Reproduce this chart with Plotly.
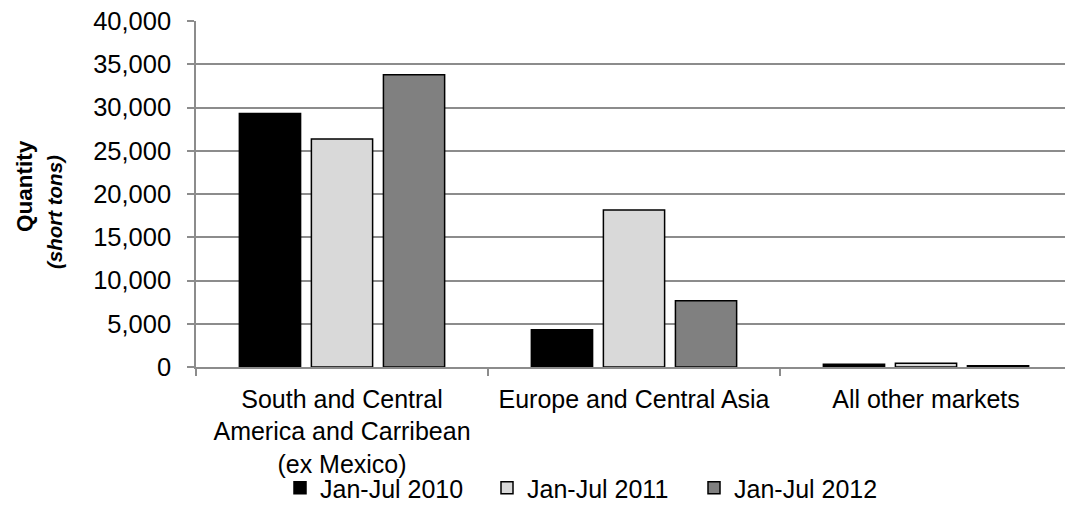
import plotly.graph_objects as go

categories = ["South and Central<br>America and Carribean<br>(ex Mexico)",
              "Europe and Central Asia",
              "All other markets"]
series_names = ["Jan-Jul 2010", "Jan-Jul 2011", "Jan-Jul 2012"]
v2010 = [29300, 4300, 330]
v2011 = [26350, 18150, 430]
v2012 = [33800, 7650, 150]
colors = ["#000000", "#D9D9D9", "#808080"]

FONT = "Liberation Sans, Arial, sans-serif"
W, H = 1065, 505
ML, MT, MB = 196, 21, 138
cat_px = 292.0
plot_w = W - ML
plot_h = H - MT - MB
y0 = MT + plot_h  # pixel row of the x axis

fig = go.Figure()
for name, vals, col in zip(series_names, [v2010, v2011, v2012], colors):
    fig.add_trace(go.Bar(
        x=categories, y=vals, name=name,
        marker=dict(color=col, line=dict(color="#000000", width=1.5)),
    ))

fig.update_layout(
    width=W, height=H,
    margin=dict(l=ML, r=0, t=MT, b=MB, pad=0, autoexpand=False),
    paper_bgcolor="white", plot_bgcolor="white",
    barmode="group", bargap=0.26, bargroupgap=0.15,
    font=dict(family=FONT, size=25, color="#000000"),
    showlegend=True,
    legend=dict(orientation="h", x=(280 - ML) / plot_w, xanchor="left",
                y=(y0 - 488) / plot_h, yanchor="middle",
                font=dict(family=FONT, size=25, color="#000000"),
                itemwidth=30, entrywidth=162, entrywidthmode="pixels",
                tracegroupgap=0, bgcolor="rgba(0,0,0,0)"),
)
fig.update_xaxes(
    type="category", range=[-0.5, -0.5 + plot_w / cat_px], automargin=False,
    showline=True, linecolor="#8c8c8c", linewidth=1.5,
    ticks="outside", tickson="boundaries", ticklen=7, tickcolor="#8c8c8c", tickwidth=1.5,
    showgrid=False, ticklabelstandoff=9,
    tickfont=dict(family=FONT, size=25, color="#000000"),
)
fig.update_yaxes(
    range=[0, 40000], dtick=5000, tickformat=",", automargin=False,
    showline=True, linecolor="#8c8c8c", linewidth=1.5,
    ticks="outside", ticklen=7, tickcolor="#8c8c8c", tickwidth=1.5,
    showgrid=True, gridcolor="#8c8c8c", gridwidth=1.5,
    zeroline=False, ticklabelstandoff=11,
    tickfont=dict(family=FONT, size=25.5, color="#000000"),
)
fig.add_annotation(
    text="<b>Quantity</b>",
    xref="paper", yref="paper", x=(24 - ML) / plot_w, y=(y0 - 186) / plot_h,
    xanchor="center", yanchor="middle", textangle=-90, showarrow=False,
    font=dict(family=FONT, size=22.5, color="#000000"),
)
fig.add_annotation(
    text="<b><i>(short tons)</i></b>",
    xref="paper", yref="paper", x=(54 - ML) / plot_w, y=(y0 - 212) / plot_h,
    xanchor="center", yanchor="middle", textangle=-90, showarrow=False,
    font=dict(family=FONT, size=20.5, color="#000000"),
)
fig.write_html("out.html")
